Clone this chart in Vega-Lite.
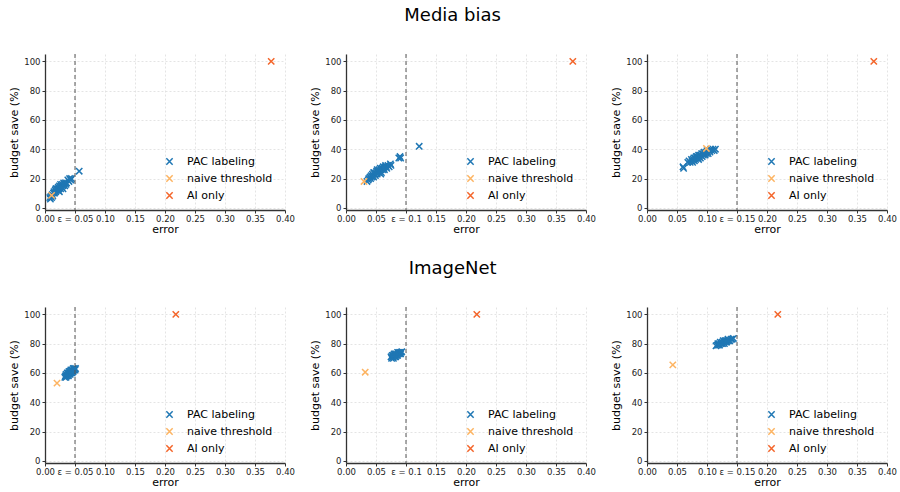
{
  "$schema": "https://vega.github.io/schema/vega-lite/v6.json",
  "background": "white",
  "padding": {"left": 8, "top": 6, "right": 2, "bottom": 2},
  "config": {
    "font": "DejaVu Sans",
    "view": {"stroke": null},
    "title": {"fontSize": 18, "fontWeight": "normal", "color": "#000", "anchor": "middle", "offset": 29},
    "axis": {
      "grid": true, "gridDash": [2, 2], "gridColor": "#dddddd", "gridWidth": 0.8,
      "domainColor": "#333", "domainWidth": 1.3, "tickColor": "#333", "tickSize": 3,
      "labelFontSize": 8.5, "labelColor": "#222", "titleFontSize": 11, "titleFontWeight": "normal", "titleColor": "#000",
      "labelOverlap": false, "labelFlush": false
    },
    "axisX": {"titlePadding": 1, "labelPadding": 1},
    "legend": {"labelFontSize": 11, "labelColor": "#000", "rowPadding": 4, "labelOffset": 12, "symbolSize": 40, "symbolStrokeWidth": 1.5}
  },
  "datasets": {
    "d": [
      {"p":"m1","m":"PAC labeling","e":0.008,"s":7},{"p":"m1","m":"PAC labeling","e":0.009,"s":6},{"p":"m1","m":"PAC labeling","e":0.010,"s":8},{"p":"m1","m":"PAC labeling","e":0.012,"s":9},{"p":"m1","m":"PAC labeling","e":0.013,"s":8},{"p":"m1","m":"PAC labeling","e":0.014,"s":10},{"p":"m1","m":"PAC labeling","e":0.015,"s":11},{"p":"m1","m":"PAC labeling","e":0.016,"s":10},{"p":"m1","m":"PAC labeling","e":0.017,"s":12},{"p":"m1","m":"PAC labeling","e":0.018,"s":11},{"p":"m1","m":"PAC labeling","e":0.019,"s":13},{"p":"m1","m":"PAC labeling","e":0.020,"s":12},{"p":"m1","m":"PAC labeling","e":0.021,"s":13},{"p":"m1","m":"PAC labeling","e":0.022,"s":14},{"p":"m1","m":"PAC labeling","e":0.022,"s":12},{"p":"m1","m":"PAC labeling","e":0.023,"s":13},{"p":"m1","m":"PAC labeling","e":0.024,"s":15},{"p":"m1","m":"PAC labeling","e":0.025,"s":14},{"p":"m1","m":"PAC labeling","e":0.026,"s":13},{"p":"m1","m":"PAC labeling","e":0.026,"s":16},{"p":"m1","m":"PAC labeling","e":0.027,"s":15},{"p":"m1","m":"PAC labeling","e":0.028,"s":14},{"p":"m1","m":"PAC labeling","e":0.029,"s":16},{"p":"m1","m":"PAC labeling","e":0.030,"s":15},{"p":"m1","m":"PAC labeling","e":0.031,"s":17},{"p":"m1","m":"PAC labeling","e":0.032,"s":16},{"p":"m1","m":"PAC labeling","e":0.033,"s":15},{"p":"m1","m":"PAC labeling","e":0.034,"s":17},{"p":"m1","m":"PAC labeling","e":0.035,"s":16},{"p":"m1","m":"PAC labeling","e":0.036,"s":17},{"p":"m1","m":"PAC labeling","e":0.038,"s":19},{"p":"m1","m":"PAC labeling","e":0.040,"s":18},{"p":"m1","m":"PAC labeling","e":0.041,"s":20},{"p":"m1","m":"PAC labeling","e":0.043,"s":19},{"p":"m1","m":"PAC labeling","e":0.044,"s":20},{"p":"m1","m":"PAC labeling","e":0.024,"s":11},{"p":"m1","m":"PAC labeling","e":0.018,"s":13},{"p":"m1","m":"PAC labeling","e":0.030,"s":13},{"p":"m1","m":"PAC labeling","e":0.011,"s":7},{"p":"m1","m":"PAC labeling","e":0.057,"s":25},
      {"p":"m1","m":"naive threshold","e":0.011,"s":8.5},{"p":"m1","m":"AI only","e":0.377,"s":100},
      {"p":"m2","m":"PAC labeling","e":0.035,"s":18},{"p":"m2","m":"PAC labeling","e":0.037,"s":19},{"p":"m2","m":"PAC labeling","e":0.038,"s":20},{"p":"m2","m":"PAC labeling","e":0.040,"s":21},{"p":"m2","m":"PAC labeling","e":0.041,"s":20},{"p":"m2","m":"PAC labeling","e":0.042,"s":22},{"p":"m2","m":"PAC labeling","e":0.043,"s":21},{"p":"m2","m":"PAC labeling","e":0.044,"s":23},{"p":"m2","m":"PAC labeling","e":0.045,"s":22},{"p":"m2","m":"PAC labeling","e":0.046,"s":21},{"p":"m2","m":"PAC labeling","e":0.047,"s":24},{"p":"m2","m":"PAC labeling","e":0.048,"s":23},{"p":"m2","m":"PAC labeling","e":0.049,"s":22},{"p":"m2","m":"PAC labeling","e":0.050,"s":24},{"p":"m2","m":"PAC labeling","e":0.051,"s":25},{"p":"m2","m":"PAC labeling","e":0.052,"s":23},{"p":"m2","m":"PAC labeling","e":0.053,"s":25},{"p":"m2","m":"PAC labeling","e":0.054,"s":24},{"p":"m2","m":"PAC labeling","e":0.055,"s":26},{"p":"m2","m":"PAC labeling","e":0.056,"s":25},{"p":"m2","m":"PAC labeling","e":0.057,"s":27},{"p":"m2","m":"PAC labeling","e":0.058,"s":26},{"p":"m2","m":"PAC labeling","e":0.059,"s":24},{"p":"m2","m":"PAC labeling","e":0.060,"s":27},{"p":"m2","m":"PAC labeling","e":0.061,"s":26},{"p":"m2","m":"PAC labeling","e":0.062,"s":28},{"p":"m2","m":"PAC labeling","e":0.063,"s":27},{"p":"m2","m":"PAC labeling","e":0.064,"s":26},{"p":"m2","m":"PAC labeling","e":0.065,"s":28},{"p":"m2","m":"PAC labeling","e":0.066,"s":29},{"p":"m2","m":"PAC labeling","e":0.067,"s":28},{"p":"m2","m":"PAC labeling","e":0.068,"s":27},{"p":"m2","m":"PAC labeling","e":0.070,"s":29},{"p":"m2","m":"PAC labeling","e":0.072,"s":28},{"p":"m2","m":"PAC labeling","e":0.074,"s":30},{"p":"m2","m":"PAC labeling","e":0.075,"s":29},{"p":"m2","m":"PAC labeling","e":0.046,"s":24},{"p":"m2","m":"PAC labeling","e":0.052,"s":26},{"p":"m2","m":"PAC labeling","e":0.058,"s":23},{"p":"m2","m":"PAC labeling","e":0.088,"s":34},{"p":"m2","m":"PAC labeling","e":0.090,"s":35},{"p":"m2","m":"PAC labeling","e":0.091,"s":34},{"p":"m2","m":"PAC labeling","e":0.122,"s":42},
      {"p":"m2","m":"naive threshold","e":0.030,"s":18},{"p":"m2","m":"AI only","e":0.378,"s":100},
      {"p":"m3","m":"PAC labeling","e":0.060,"s":28},{"p":"m3","m":"PAC labeling","e":0.061,"s":27},{"p":"m3","m":"PAC labeling","e":0.068,"s":31},{"p":"m3","m":"PAC labeling","e":0.070,"s":32},{"p":"m3","m":"PAC labeling","e":0.072,"s":31},{"p":"m3","m":"PAC labeling","e":0.074,"s":33},{"p":"m3","m":"PAC labeling","e":0.075,"s":32},{"p":"m3","m":"PAC labeling","e":0.077,"s":33},{"p":"m3","m":"PAC labeling","e":0.078,"s":34},{"p":"m3","m":"PAC labeling","e":0.079,"s":32},{"p":"m3","m":"PAC labeling","e":0.080,"s":34},{"p":"m3","m":"PAC labeling","e":0.081,"s":33},{"p":"m3","m":"PAC labeling","e":0.082,"s":35},{"p":"m3","m":"PAC labeling","e":0.083,"s":34},{"p":"m3","m":"PAC labeling","e":0.084,"s":35},{"p":"m3","m":"PAC labeling","e":0.085,"s":34},{"p":"m3","m":"PAC labeling","e":0.086,"s":36},{"p":"m3","m":"PAC labeling","e":0.087,"s":35},{"p":"m3","m":"PAC labeling","e":0.088,"s":36},{"p":"m3","m":"PAC labeling","e":0.089,"s":34},{"p":"m3","m":"PAC labeling","e":0.090,"s":36},{"p":"m3","m":"PAC labeling","e":0.091,"s":37},{"p":"m3","m":"PAC labeling","e":0.092,"s":35},{"p":"m3","m":"PAC labeling","e":0.093,"s":37},{"p":"m3","m":"PAC labeling","e":0.094,"s":36},{"p":"m3","m":"PAC labeling","e":0.095,"s":38},{"p":"m3","m":"PAC labeling","e":0.096,"s":37},{"p":"m3","m":"PAC labeling","e":0.097,"s":36},{"p":"m3","m":"PAC labeling","e":0.098,"s":38},{"p":"m3","m":"PAC labeling","e":0.099,"s":37},{"p":"m3","m":"PAC labeling","e":0.100,"s":39},{"p":"m3","m":"PAC labeling","e":0.101,"s":38},{"p":"m3","m":"PAC labeling","e":0.102,"s":37},{"p":"m3","m":"PAC labeling","e":0.104,"s":39},{"p":"m3","m":"PAC labeling","e":0.105,"s":38},{"p":"m3","m":"PAC labeling","e":0.106,"s":40},{"p":"m3","m":"PAC labeling","e":0.108,"s":39},{"p":"m3","m":"PAC labeling","e":0.110,"s":40},{"p":"m3","m":"PAC labeling","e":0.112,"s":39},{"p":"m3","m":"PAC labeling","e":0.114,"s":40},{"p":"m3","m":"PAC labeling","e":0.076,"s":31},{"p":"m3","m":"PAC labeling","e":0.086,"s":33},
      {"p":"m3","m":"naive threshold","e":0.099,"s":40.5},{"p":"m3","m":"AI only","e":0.378,"s":100},
      {"p":"i1","m":"PAC labeling","e":0.033,"s":57},{"p":"i1","m":"PAC labeling","e":0.034,"s":58},{"p":"i1","m":"PAC labeling","e":0.035,"s":59},{"p":"i1","m":"PAC labeling","e":0.035,"s":57},{"p":"i1","m":"PAC labeling","e":0.036,"s":58},{"p":"i1","m":"PAC labeling","e":0.037,"s":60},{"p":"i1","m":"PAC labeling","e":0.037,"s":58},{"p":"i1","m":"PAC labeling","e":0.038,"s":59},{"p":"i1","m":"PAC labeling","e":0.039,"s":60},{"p":"i1","m":"PAC labeling","e":0.039,"s":58},{"p":"i1","m":"PAC labeling","e":0.040,"s":61},{"p":"i1","m":"PAC labeling","e":0.040,"s":59},{"p":"i1","m":"PAC labeling","e":0.041,"s":60},{"p":"i1","m":"PAC labeling","e":0.042,"s":61},{"p":"i1","m":"PAC labeling","e":0.042,"s":59},{"p":"i1","m":"PAC labeling","e":0.043,"s":62},{"p":"i1","m":"PAC labeling","e":0.043,"s":60},{"p":"i1","m":"PAC labeling","e":0.044,"s":61},{"p":"i1","m":"PAC labeling","e":0.045,"s":62},{"p":"i1","m":"PAC labeling","e":0.045,"s":60},{"p":"i1","m":"PAC labeling","e":0.046,"s":61},{"p":"i1","m":"PAC labeling","e":0.047,"s":63},{"p":"i1","m":"PAC labeling","e":0.047,"s":61},{"p":"i1","m":"PAC labeling","e":0.048,"s":62},{"p":"i1","m":"PAC labeling","e":0.049,"s":63},{"p":"i1","m":"PAC labeling","e":0.050,"s":62},{"p":"i1","m":"PAC labeling","e":0.051,"s":63},
      {"p":"i1","m":"naive threshold","e":0.020,"s":53},{"p":"i1","m":"AI only","e":0.218,"s":100},
      {"p":"i2","m":"PAC labeling","e":0.075,"s":71},{"p":"i2","m":"PAC labeling","e":0.076,"s":70},{"p":"i2","m":"PAC labeling","e":0.077,"s":72},{"p":"i2","m":"PAC labeling","e":0.078,"s":71},{"p":"i2","m":"PAC labeling","e":0.079,"s":72},{"p":"i2","m":"PAC labeling","e":0.079,"s":70},{"p":"i2","m":"PAC labeling","e":0.080,"s":73},{"p":"i2","m":"PAC labeling","e":0.081,"s":71},{"p":"i2","m":"PAC labeling","e":0.081,"s":72},{"p":"i2","m":"PAC labeling","e":0.082,"s":73},{"p":"i2","m":"PAC labeling","e":0.083,"s":72},{"p":"i2","m":"PAC labeling","e":0.083,"s":71},{"p":"i2","m":"PAC labeling","e":0.084,"s":73},{"p":"i2","m":"PAC labeling","e":0.085,"s":72},{"p":"i2","m":"PAC labeling","e":0.086,"s":74},{"p":"i2","m":"PAC labeling","e":0.086,"s":72},{"p":"i2","m":"PAC labeling","e":0.087,"s":73},{"p":"i2","m":"PAC labeling","e":0.088,"s":74},{"p":"i2","m":"PAC labeling","e":0.089,"s":73},{"p":"i2","m":"PAC labeling","e":0.090,"s":74},{"p":"i2","m":"PAC labeling","e":0.091,"s":73},{"p":"i2","m":"PAC labeling","e":0.092,"s":74},{"p":"i2","m":"PAC labeling","e":0.093,"s":74.5},
      {"p":"i2","m":"naive threshold","e":0.032,"s":60.5},{"p":"i2","m":"AI only","e":0.218,"s":100},
      {"p":"i3","m":"PAC labeling","e":0.115,"s":78.5},{"p":"i3","m":"PAC labeling","e":0.117,"s":79},{"p":"i3","m":"PAC labeling","e":0.118,"s":80},{"p":"i3","m":"PAC labeling","e":0.119,"s":79},{"p":"i3","m":"PAC labeling","e":0.120,"s":80},{"p":"i3","m":"PAC labeling","e":0.121,"s":79},{"p":"i3","m":"PAC labeling","e":0.122,"s":81},{"p":"i3","m":"PAC labeling","e":0.123,"s":80},{"p":"i3","m":"PAC labeling","e":0.124,"s":80},{"p":"i3","m":"PAC labeling","e":0.125,"s":81},{"p":"i3","m":"PAC labeling","e":0.126,"s":80},{"p":"i3","m":"PAC labeling","e":0.127,"s":82},{"p":"i3","m":"PAC labeling","e":0.128,"s":81},{"p":"i3","m":"PAC labeling","e":0.129,"s":80},{"p":"i3","m":"PAC labeling","e":0.130,"s":82},{"p":"i3","m":"PAC labeling","e":0.131,"s":81},{"p":"i3","m":"PAC labeling","e":0.132,"s":82},{"p":"i3","m":"PAC labeling","e":0.133,"s":81},{"p":"i3","m":"PAC labeling","e":0.134,"s":82},{"p":"i3","m":"PAC labeling","e":0.135,"s":83},{"p":"i3","m":"PAC labeling","e":0.136,"s":82},{"p":"i3","m":"PAC labeling","e":0.138,"s":82},{"p":"i3","m":"PAC labeling","e":0.140,"s":83},{"p":"i3","m":"PAC labeling","e":0.142,"s":83},{"p":"i3","m":"PAC labeling","e":0.144,"s":83.5},
      {"p":"i3","m":"naive threshold","e":0.043,"s":65.5},{"p":"i3","m":"AI only","e":0.218,"s":100}
    ],
    "eps": [{"p":"m1","eps":0.05},{"p":"m2","eps":0.1},{"p":"m3","eps":0.15},{"p":"i1","eps":0.05},{"p":"i2","eps":0.1},{"p":"i3","eps":0.15}]
  },
  "spacing": 24,
  "resolve": {"legend": {"color": "independent"}, "scale": {"x": "independent", "y": "independent", "color": "independent"}},
  "vconcat": [
    {
      "title": "Media bias",
      "spacing": 14,
      "resolve": {"legend": {"color": "independent"}, "scale": {"x": "independent", "y": "independent", "color": "independent"}},
      "hconcat": [
        {"width": 240, "height": 156, "layer": [
          {"data": {"name": "d"}, "transform": [{"filter": "datum.p == 'm1'"}], "mark": {"type": "point", "shape": "M-1,-1L1,1M-1,1L1,-1", "filled": false, "size": 40, "strokeWidth": 1.5, "opacity": 1},
           "encoding": {
             "x": {"field": "e", "type": "quantitative", "title": "error", "scale": {"domain": [0, 0.4], "nice": false, "zero": false, "padding": 0}, "axis": {"values": [0, 0.05, 0.1, 0.15, 0.2, 0.25, 0.3, 0.35, 0.4], "labelOverlap": false, "labelExpr": "abs(datum.value - 0.05) < 1e-9 ? 'ε = 0.05' : format(datum.value, '.2f')"}},
             "y": {"field": "s", "type": "quantitative", "title": "budget save (%)", "scale": {"domain": [-1.5, 105], "nice": false, "zero": false, "padding": 0}, "axis": {"values": [0, 20, 40, 60, 80, 100]}},
             "color": {"field": "m", "type": "nominal", "scale": {"domain": ["PAC labeling", "naive threshold", "AI only"], "range": ["#1f77b4", "#fdb462", "#f4652a"]}, "legend": {"title": null, "orient": "none", "legendX": 119, "legendY": 102, "symbolType": "M-1,-1L1,1M-1,1L1,-1"}}
           }},
          {"data": {"name": "eps"}, "transform": [{"filter": "datum.p == 'm1'"}], "mark": {"type": "rule", "strokeDash": [4, 3], "color": "#555", "strokeWidth": 1}, "encoding": {"x": {"field": "eps", "type": "quantitative", "title": "error", "axis": {"values": [0, 0.05, 0.1, 0.15, 0.2, 0.25, 0.3, 0.35, 0.4], "labelOverlap": false, "labelExpr": "abs(datum.value - 0.05) < 1e-9 ? 'ε = 0.05' : format(datum.value, '.2f')"}}}}
        ]},
        {"width": 240, "height": 156, "layer": [
          {"data": {"name": "d"}, "transform": [{"filter": "datum.p == 'm2'"}], "mark": {"type": "point", "shape": "M-1,-1L1,1M-1,1L1,-1", "filled": false, "size": 40, "strokeWidth": 1.5, "opacity": 1},
           "encoding": {
             "x": {"field": "e", "type": "quantitative", "title": "error", "scale": {"domain": [0, 0.4], "nice": false, "zero": false, "padding": 0}, "axis": {"values": [0, 0.05, 0.1, 0.15, 0.2, 0.25, 0.3, 0.35, 0.4], "labelOverlap": false, "labelExpr": "abs(datum.value - 0.1) < 1e-9 ? 'ε = 0.1' : format(datum.value, '.2f')"}},
             "y": {"field": "s", "type": "quantitative", "title": "budget save (%)", "scale": {"domain": [-1.5, 105], "nice": false, "zero": false, "padding": 0}, "axis": {"values": [0, 20, 40, 60, 80, 100]}},
             "color": {"field": "m", "type": "nominal", "scale": {"domain": ["PAC labeling", "naive threshold", "AI only"], "range": ["#1f77b4", "#fdb462", "#f4652a"]}, "legend": {"title": null, "orient": "none", "legendX": 119, "legendY": 102, "symbolType": "M-1,-1L1,1M-1,1L1,-1"}}
           }},
          {"data": {"name": "eps"}, "transform": [{"filter": "datum.p == 'm2'"}], "mark": {"type": "rule", "strokeDash": [4, 3], "color": "#555", "strokeWidth": 1}, "encoding": {"x": {"field": "eps", "type": "quantitative", "title": "error", "axis": {"values": [0, 0.05, 0.1, 0.15, 0.2, 0.25, 0.3, 0.35, 0.4], "labelOverlap": false, "labelExpr": "abs(datum.value - 0.1) < 1e-9 ? 'ε = 0.1' : format(datum.value, '.2f')"}}}}
        ]},
        {"width": 240, "height": 156, "layer": [
          {"data": {"name": "d"}, "transform": [{"filter": "datum.p == 'm3'"}], "mark": {"type": "point", "shape": "M-1,-1L1,1M-1,1L1,-1", "filled": false, "size": 40, "strokeWidth": 1.5, "opacity": 1},
           "encoding": {
             "x": {"field": "e", "type": "quantitative", "title": "error", "scale": {"domain": [0, 0.4], "nice": false, "zero": false, "padding": 0}, "axis": {"values": [0, 0.05, 0.1, 0.15, 0.2, 0.25, 0.3, 0.35, 0.4], "labelOverlap": false, "labelExpr": "abs(datum.value - 0.15) < 1e-9 ? 'ε = 0.15' : format(datum.value, '.2f')"}},
             "y": {"field": "s", "type": "quantitative", "title": "budget save (%)", "scale": {"domain": [-1.5, 105], "nice": false, "zero": false, "padding": 0}, "axis": {"values": [0, 20, 40, 60, 80, 100]}},
             "color": {"field": "m", "type": "nominal", "scale": {"domain": ["PAC labeling", "naive threshold", "AI only"], "range": ["#1f77b4", "#fdb462", "#f4652a"]}, "legend": {"title": null, "orient": "none", "legendX": 119, "legendY": 102, "symbolType": "M-1,-1L1,1M-1,1L1,-1"}}
           }},
          {"data": {"name": "eps"}, "transform": [{"filter": "datum.p == 'm3'"}], "mark": {"type": "rule", "strokeDash": [4, 3], "color": "#555", "strokeWidth": 1}, "encoding": {"x": {"field": "eps", "type": "quantitative", "title": "error", "axis": {"values": [0, 0.05, 0.1, 0.15, 0.2, 0.25, 0.3, 0.35, 0.4], "labelOverlap": false, "labelExpr": "abs(datum.value - 0.15) < 1e-9 ? 'ε = 0.15' : format(datum.value, '.2f')"}}}}
        ]}
      ]
    },
    {
      "title": "ImageNet",
      "spacing": 14,
      "resolve": {"legend": {"color": "independent"}, "scale": {"x": "independent", "y": "independent", "color": "independent"}},
      "hconcat": [
        {"width": 240, "height": 156, "layer": [
          {"data": {"name": "d"}, "transform": [{"filter": "datum.p == 'i1'"}], "mark": {"type": "point", "shape": "M-1,-1L1,1M-1,1L1,-1", "filled": false, "size": 40, "strokeWidth": 1.5, "opacity": 1},
           "encoding": {
             "x": {"field": "e", "type": "quantitative", "title": "error", "scale": {"domain": [0, 0.4], "nice": false, "zero": false, "padding": 0}, "axis": {"values": [0, 0.05, 0.1, 0.15, 0.2, 0.25, 0.3, 0.35, 0.4], "labelOverlap": false, "labelExpr": "abs(datum.value - 0.05) < 1e-9 ? 'ε = 0.05' : format(datum.value, '.2f')"}},
             "y": {"field": "s", "type": "quantitative", "title": "budget save (%)", "scale": {"domain": [-1.5, 105], "nice": false, "zero": false, "padding": 0}, "axis": {"values": [0, 20, 40, 60, 80, 100]}},
             "color": {"field": "m", "type": "nominal", "scale": {"domain": ["PAC labeling", "naive threshold", "AI only"], "range": ["#1f77b4", "#fdb462", "#f4652a"]}, "legend": {"title": null, "orient": "none", "legendX": 119, "legendY": 102, "symbolType": "M-1,-1L1,1M-1,1L1,-1"}}
           }},
          {"data": {"name": "eps"}, "transform": [{"filter": "datum.p == 'i1'"}], "mark": {"type": "rule", "strokeDash": [4, 3], "color": "#555", "strokeWidth": 1}, "encoding": {"x": {"field": "eps", "type": "quantitative", "title": "error", "axis": {"values": [0, 0.05, 0.1, 0.15, 0.2, 0.25, 0.3, 0.35, 0.4], "labelOverlap": false, "labelExpr": "abs(datum.value - 0.05) < 1e-9 ? 'ε = 0.05' : format(datum.value, '.2f')"}}}}
        ]},
        {"width": 240, "height": 156, "layer": [
          {"data": {"name": "d"}, "transform": [{"filter": "datum.p == 'i2'"}], "mark": {"type": "point", "shape": "M-1,-1L1,1M-1,1L1,-1", "filled": false, "size": 40, "strokeWidth": 1.5, "opacity": 1},
           "encoding": {
             "x": {"field": "e", "type": "quantitative", "title": "error", "scale": {"domain": [0, 0.4], "nice": false, "zero": false, "padding": 0}, "axis": {"values": [0, 0.05, 0.1, 0.15, 0.2, 0.25, 0.3, 0.35, 0.4], "labelOverlap": false, "labelExpr": "abs(datum.value - 0.1) < 1e-9 ? 'ε = 0.1' : format(datum.value, '.2f')"}},
             "y": {"field": "s", "type": "quantitative", "title": "budget save (%)", "scale": {"domain": [-1.5, 105], "nice": false, "zero": false, "padding": 0}, "axis": {"values": [0, 20, 40, 60, 80, 100]}},
             "color": {"field": "m", "type": "nominal", "scale": {"domain": ["PAC labeling", "naive threshold", "AI only"], "range": ["#1f77b4", "#fdb462", "#f4652a"]}, "legend": {"title": null, "orient": "none", "legendX": 119, "legendY": 102, "symbolType": "M-1,-1L1,1M-1,1L1,-1"}}
           }},
          {"data": {"name": "eps"}, "transform": [{"filter": "datum.p == 'i2'"}], "mark": {"type": "rule", "strokeDash": [4, 3], "color": "#555", "strokeWidth": 1}, "encoding": {"x": {"field": "eps", "type": "quantitative", "title": "error", "axis": {"values": [0, 0.05, 0.1, 0.15, 0.2, 0.25, 0.3, 0.35, 0.4], "labelOverlap": false, "labelExpr": "abs(datum.value - 0.1) < 1e-9 ? 'ε = 0.1' : format(datum.value, '.2f')"}}}}
        ]},
        {"width": 240, "height": 156, "layer": [
          {"data": {"name": "d"}, "transform": [{"filter": "datum.p == 'i3'"}], "mark": {"type": "point", "shape": "M-1,-1L1,1M-1,1L1,-1", "filled": false, "size": 40, "strokeWidth": 1.5, "opacity": 1},
           "encoding": {
             "x": {"field": "e", "type": "quantitative", "title": "error", "scale": {"domain": [0, 0.4], "nice": false, "zero": false, "padding": 0}, "axis": {"values": [0, 0.05, 0.1, 0.15, 0.2, 0.25, 0.3, 0.35, 0.4], "labelOverlap": false, "labelExpr": "abs(datum.value - 0.15) < 1e-9 ? 'ε = 0.15' : format(datum.value, '.2f')"}},
             "y": {"field": "s", "type": "quantitative", "title": "budget save (%)", "scale": {"domain": [-1.5, 105], "nice": false, "zero": false, "padding": 0}, "axis": {"values": [0, 20, 40, 60, 80, 100]}},
             "color": {"field": "m", "type": "nominal", "scale": {"domain": ["PAC labeling", "naive threshold", "AI only"], "range": ["#1f77b4", "#fdb462", "#f4652a"]}, "legend": {"title": null, "orient": "none", "legendX": 119, "legendY": 102, "symbolType": "M-1,-1L1,1M-1,1L1,-1"}}
           }},
          {"data": {"name": "eps"}, "transform": [{"filter": "datum.p == 'i3'"}], "mark": {"type": "rule", "strokeDash": [4, 3], "color": "#555", "strokeWidth": 1}, "encoding": {"x": {"field": "eps", "type": "quantitative", "title": "error", "axis": {"values": [0, 0.05, 0.1, 0.15, 0.2, 0.25, 0.3, 0.35, 0.4], "labelOverlap": false, "labelExpr": "abs(datum.value - 0.15) < 1e-9 ? 'ε = 0.15' : format(datum.value, '.2f')"}}}}
        ]}
      ]
    }
  ]
}
